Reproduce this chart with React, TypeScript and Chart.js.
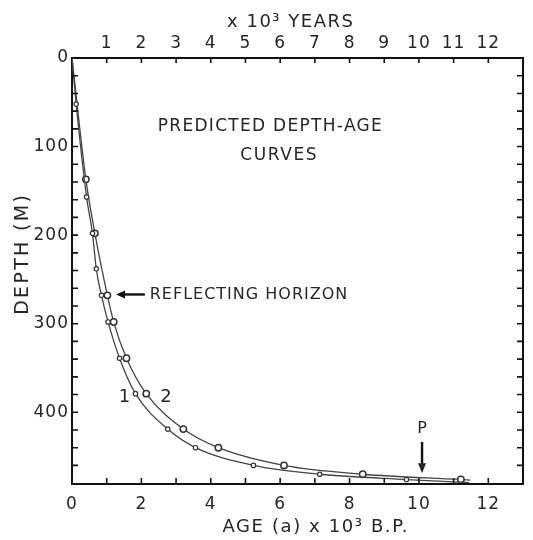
import React, { useEffect, useRef } from "react";
import { Chart, registerables } from "chart.js";

Chart.register(...registerables);

// ---- data ----
const curve1Age = [0, 0.12, 0.42, 0.59, 0.7, 0.85, 1.04, 1.37, 1.83, 2.76, 3.56, 5.23, 7.14, 9.64, 11.45];
const curve1Depth = [0, 52, 157, 198, 238, 268, 298, 339, 379, 419, 440, 460, 470, 476, 479.5];
const curve1Marked = [0, 1, 1, 1, 1, 1, 1, 1, 1, 1, 1, 1, 1, 1, 0];

const curve2Age = [0, 0.4, 0.66, 1.02, 1.2, 1.57, 2.14, 3.21, 4.22, 6.11, 8.38, 11.21, 11.48];
const curve2Depth = [0, 137, 198, 268, 298, 339, 379, 419, 440, 460, 470, 476, 476.6];
const curve2Marked = [0, 1, 1, 1, 1, 1, 1, 1, 1, 1, 1, 1, 0];

const bottomTickLabels = [0, 2, 4, 6, 8, 10, 12];
const topTickLabels = [1, 2, 3, 4, 5, 6, 7, 8, 9, 10, 11, 12];
const depthTickLabels = [0, 100, 200, 300, 400];
const ageTickMarks = [1, 2, 3, 4, 5, 6, 7, 8, 9, 10, 11, 12];
const depthTickMarks = [20, 40, 60, 80, 100, 120, 140, 160, 180, 200, 220, 240, 260, 280, 300, 320, 340, 360, 380, 400, 420, 440, 460];

const AGE_MAX = 13;
const DEPTH_MAX = 481;

const FONT = "'DejaVu Sans', sans-serif";
const INK = "#262626";
const LINE = "#444";

function drawText(ctx: CanvasRenderingContext2D, text: string, x: number, y: number, size: number, spacing: number, align: CanvasTextAlign = "center") {
  ctx.font = `${size}px ${FONT}`;
  (ctx as any).letterSpacing = `${spacing}px`;
  ctx.textAlign = align;
  ctx.textBaseline = "middle";
  ctx.fillStyle = INK;
  const dx = align === "center" ? spacing / 2 : 0;
  ctx.fillText(text, x + dx, y);
  (ctx as any).letterSpacing = "0px";
}

const overlayPlugin = {
  id: "overlay",
  beforeDraw(chart: any) {
    (chart.ctx as any).letterSpacing = "1px";
  },
  afterDraw(chart: any) {
    const { ctx, chartArea: a, scales } = chart;
    const xs = scales.x;
    const xt = scales.x2;
    const ys = scales.y;
    ctx.save();
    (ctx as any).letterSpacing = "0px";
    // inward tick marks
    ctx.strokeStyle = "#111";
    ctx.lineWidth = 1.6;
    ctx.beginPath();
    for (const v of ageTickMarks) {
      const pb = xs.getPixelForValue(v);
      ctx.moveTo(pb, a.bottom);
      ctx.lineTo(pb, a.bottom - 6);
      const pt = xt.getPixelForValue(v);
      ctx.moveTo(pt, a.top);
      ctx.lineTo(pt, a.top + 5);
    }
    for (const v of depthTickMarks) {
      const py = ys.getPixelForValue(v);
      ctx.moveTo(a.left, py);
      ctx.lineTo(a.left + 6, py);
      ctx.moveTo(a.right, py);
      ctx.lineTo(a.right - 6, py);
    }
    ctx.stroke();

    // axis titles
    drawText(ctx, "x 10³ YEARS", 290, 22, 18, 1.5);
    drawText(ctx, "AGE (a) x 10³ B.P.", 315, 527, 18, 1.6);
    ctx.save();
    ctx.translate(23, 255);
    ctx.rotate(-Math.PI / 2);
    drawText(ctx, "DEPTH (M)", 0, 0, 19, 2.3);
    ctx.restore();

    // annotations
    drawText(ctx, "PREDICTED DEPTH-AGE", xs.getPixelForValue(5.7), ys.getPixelForValue(77), 17, 1.3);
    drawText(ctx, "CURVES", xs.getPixelForValue(5.95), ys.getPixelForValue(110), 17, 1.6);

    const ry = ys.getPixelForValue(267);
    drawText(ctx, "REFLECTING HORIZON", xs.getPixelForValue(2.24), ry, 16, 1, "left");
    // arrow pointing left
    const tip = xs.getPixelForValue(1.27);
    const tail = xs.getPixelForValue(2.1);
    ctx.strokeStyle = "#111";
    ctx.fillStyle = "#111";
    ctx.lineWidth = 2.4;
    ctx.beginPath();
    ctx.moveTo(tail, ry);
    ctx.lineTo(tip + 6, ry);
    ctx.stroke();
    ctx.beginPath();
    ctx.moveTo(tip, ry);
    ctx.lineTo(tip + 9, ry - 4);
    ctx.lineTo(tip + 9, ry + 4);
    ctx.closePath();
    ctx.fill();

    drawText(ctx, "1", xs.getPixelForValue(1.51), ys.getPixelForValue(383), 18, 0);
    drawText(ctx, "2", xs.getPixelForValue(2.71), ys.getPixelForValue(383), 18, 0);

    // P arrow pointing down
    const px = xs.getPixelForValue(10.09);
    drawText(ctx, "P", px, ys.getPixelForValue(419), 16, 0);
    const top = ys.getPixelForValue(433.5);
    const bot = ys.getPixelForValue(469);
    ctx.lineWidth = 2.4;
    ctx.beginPath();
    ctx.moveTo(px, top);
    ctx.lineTo(px, bot - 6);
    ctx.stroke();
    ctx.beginPath();
    ctx.moveTo(px, bot);
    ctx.lineTo(px - 4, bot - 10);
    ctx.lineTo(px + 4, bot - 10);
    ctx.closePath();
    ctx.fill();

    ctx.restore();
  },
};

export default function App() {
  const ref = useRef<HTMLCanvasElement | null>(null);

  useEffect(() => {
    document.body.style.margin = "0";
    const canvas = ref.current;
    if (!canvas) return;

    const pts1 = curve1Age.map((x, i) => ({ x, y: curve1Depth[i] }));
    const pts2 = curve2Age.map((x, i) => ({ x, y: curve2Depth[i] }));

    const tickFont = { family: FONT, size: 17 };

    const chart = new Chart(canvas, {
      type: "line",
      data: {
        datasets: [
          {
            label: "1",
            data: pts1,
            borderColor: LINE,
            borderWidth: 1.3,
            pointRadius: curve1Marked.map((m) => (m ? 2.2 : 0)),
            pointBorderWidth: 1.2,
            pointBorderColor: "#333",
            pointBackgroundColor: "#fff",
            cubicInterpolationMode: "monotone",
            xAxisID: "x",
            yAxisID: "y",
          },
          {
            label: "2",
            data: pts2,
            borderColor: LINE,
            borderWidth: 1.3,
            pointRadius: curve2Marked.map((m) => (m ? 3.2 : 0)),
            pointBorderWidth: 1.5,
            pointBorderColor: "#333",
            pointBackgroundColor: "#fff",
            cubicInterpolationMode: "monotone",
            xAxisID: "x",
            yAxisID: "y",
          },
        ],
      },
      options: {
        responsive: false,
        animation: false,
        events: [],
        layout: { padding: 0 },
        plugins: { legend: { display: false }, tooltip: { enabled: false } },
        scales: {
          x: {
            type: "linear",
            position: "bottom",
            min: 0,
            max: AGE_MAX,
            afterFit: (s: any) => {
              s.height = 56;
            },
            ticks: {
              stepSize: 1,
              autoSkip: false,
              includeBounds: false,
              maxRotation: 0,
              padding: 10,
              color: INK,
              font: tickFont,
              callback: (v: any) => (bottomTickLabels.includes(Number(v)) ? String(v) : ""),
            },
            grid: { display: false, drawTicks: false },
            border: { display: true, color: "#111", width: 2 },
          },
          x2: {
            type: "linear",
            position: "top",
            min: 0,
            max: AGE_MAX,
            afterFit: (s: any) => {
              s.height = 58;
            },
            ticks: {
              stepSize: 1,
              autoSkip: false,
              includeBounds: false,
              maxRotation: 0,
              padding: 4,
              color: INK,
              font: tickFont,
              callback: (v: any) => (topTickLabels.includes(Number(v)) ? String(v) : ""),
            },
            grid: { display: false, drawTicks: false },
            border: { display: true, color: "#111", width: 2 },
          },
          y: {
            type: "linear",
            position: "left",
            reverse: true,
            min: 0,
            max: DEPTH_MAX,
            afterFit: (s: any) => {
              s.width = 72;
            },
            ticks: {
              stepSize: 20,
              autoSkip: false,
              includeBounds: false,
              padding: 3,
              color: INK,
              font: tickFont,
              callback: (v: any) => (depthTickLabels.includes(Number(v)) ? String(v) : ""),
            },
            grid: { display: false, drawTicks: false },
            border: { display: true, color: "#111", width: 2 },
          },
          y2: {
            type: "linear",
            position: "right",
            reverse: true,
            min: 0,
            max: DEPTH_MAX,
            afterFit: (s: any) => {
              s.width = 2;
            },
            ticks: { display: false },
            grid: { display: false, drawTicks: false },
            border: { display: true, color: "#111", width: 2 },
          },
        },
      },
      plugins: [overlayPlugin],
    } as any);

    return () => chart.destroy();
  }, []);

  return (
    <div style={{ position: "absolute", left: 0, top: 0, width: 533, height: 540, background: "#fff" }}>
      <canvas ref={ref} width={533} height={540} style={{ display: "block" }} />
    </div>
  );
}
